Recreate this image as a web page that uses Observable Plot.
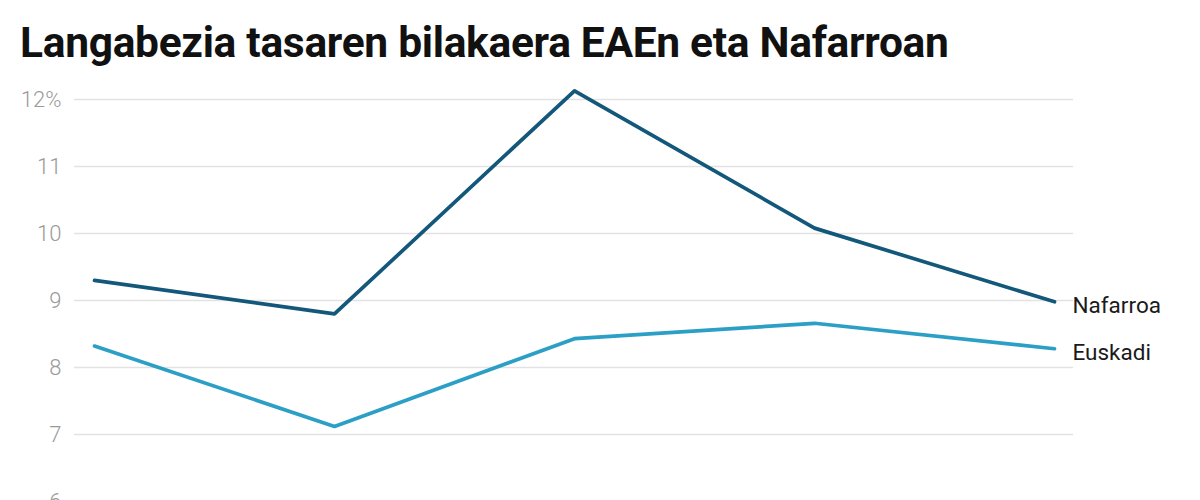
<!DOCTYPE html>
<html>
<head>
<meta charset="utf-8">
<script src="https://cdn.jsdelivr.net/npm/d3@7"></script>
<script src="https://cdn.jsdelivr.net/npm/@observablehq/plot@0.6"></script>
<style>
  html, body { margin: 0; padding: 0; background: #fff; overflow: hidden; }
  #title { position: absolute; left: 20px; top: 18px; font-family: Roboto, sans-serif; font-weight: 700; font-size: 42.5px; line-height: 50px; color: #111; letter-spacing: -0.3px; white-space: nowrap; }
  #chart { position: absolute; left: 0; top: 75px; }
</style>
</head>
<body>
<div id="title">Langabezia tasaren bilakaera EAEn eta Nafarroan</div>
<div id="chart"></div>
<script>
const periods = ["1", "2", "3", "4", "5"];
const seriesNames = ["Nafarroa", "Euskadi"];
const nafarroa = [9.3, 8.8, 12.13, 10.08, 8.98];
const euskadi = [8.32, 7.12, 8.43, 8.66, 8.28];
const yTicks = [6, 7, 8, 9, 10, 11, 12];
const colors = ["#13587a", "#2b9fc5"];

const rows = [];
periods.forEach((p, i) => {
  rows.push({period: p, series: seriesNames[0], value: nafarroa[i]});
  rows.push({period: p, series: seriesNames[1], value: euskadi[i]});
});
const last = rows.filter(d => d.period === periods[periods.length - 1]);

const chart = Plot.plot({
  width: 1200,
  height: 486,
  marginLeft: 92,
  marginRight: 145,
  marginTop: 24,
  marginBottom: 60,
  style: {fontFamily: "Roboto, sans-serif", background: "transparent"},
  x: {type: "point", domain: periods, padding: 0, axis: null},
  y: {domain: [6, 12], ticks: yTicks, axis: null},
  color: {domain: seriesNames, range: colors},
  marks: [
    Plot.ruleY(yTicks, {stroke: "#e2e2e2", strokeWidth: 1.5, insetLeft: -18, insetRight: -18}),
    Plot.axisY({ticks: yTicks, tickSize: 0, tickPadding: 31, fontSize: 22, fontWeight: 300, fill: "#9a9a9a",
      tickFormat: d => d === 12 ? "12%" : String(d), label: null}),
    Plot.line(rows, {x: "period", y: "value", z: "series", stroke: "series", strokeWidth: 3.7}),
    Plot.text(last, {x: "period", y: "value", text: "series", textAnchor: "start", dx: 18, dy: 4, fontSize: 22.5, fill: "#1a1a1a"})
  ]
});
document.getElementById("chart").appendChild(chart);
</script>
</body>
</html>
